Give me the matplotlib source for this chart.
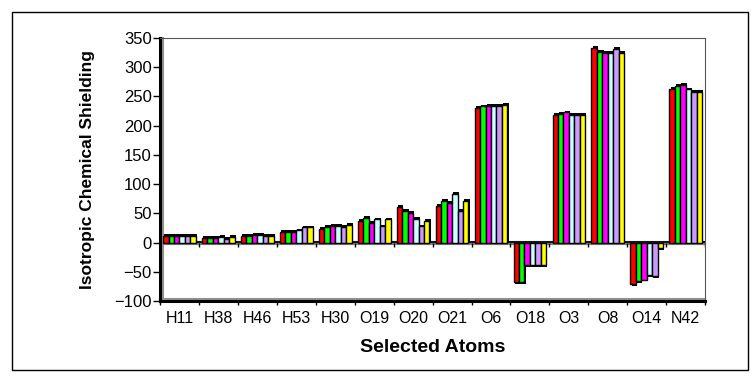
import numpy as np
import matplotlib.pyplot as plt
from matplotlib.patches import Rectangle

plt.rcParams['font.family'] = ['Liberation Sans', 'DejaVu Sans']

# data
atoms = ['H11', 'H38', 'H46', 'H53', 'H30', 'O19', 'O20', 'O21',
         'O6', 'O18', 'O3', 'O8', 'O14', 'N42']
s_red = [11, 8, 11, 19, 23, 37, 61, 63, 230, -68, 219, 333, -71, 263]
s_green = [11, 8, 12, 19, 27, 42, 54, 72, 233, -68, 220, 326, -66, 268]
s_magenta = [11, 8, 13, 19, 29, 34, 51, 68, 234, -39, 223, 324, -63, 270]
s_cyan = [11, 10, 13, 21, 29, 40, 41, 84, 234, -39, 218, 324, -55, 262]
s_lavender = [11, 7, 11, 26, 27, 28, 28, 55, 234, -39, 218, 332, -57, 258]
s_yellow = [11, 10, 11, 26, 31, 40, 37, 71, 236, -39, 219, 324, -9, 258]

series = [s_red, s_green, s_magenta, s_cyan, s_lavender, s_yellow]
colors = ['#ff0000', '#00ff00', '#ff00ff', '#ccffff', '#cc99ff', '#ffff00']

fig = plt.figure(figsize=(7.51, 3.76), dpi=100)
ax = fig.add_axes([0.213, 0.199, 0.726, 0.700])

x = np.arange(len(atoms))
w = 0.14
for i, (vals, c) in enumerate(zip(series, colors)):
    vals = np.array(vals, dtype=float)
    off = (i - 2.5) * w
    # fake 3d depth: dark block behind each bar
    ax.bar(x + off + 0.03, vals + np.sign(vals) * 3, w, color='black', zorder=2)
    ax.bar(x + off, vals, w, color=c, edgecolor='black', linewidth=1.0, zorder=3)

# zero "floor" line with category ticks
ax.axhline(0, color='#808080', lw=3, zorder=1)
ax.axhline(0.8, color='black', lw=1.2, zorder=1)
ax.vlines(np.arange(len(atoms) + 1) - 0.5, -7, 0, color='black', lw=1, zorder=1)

ax.set_xlim(-0.5, len(atoms) - 0.5)
ax.set_ylim(-100, 350)
ax.set_yticks(np.arange(-100, 351, 50))

ax.set_xticks(np.arange(len(atoms) + 1) - 0.5)
ax.set_xticklabels([])
ax.set_xticks(x, minor=True)
ax.set_xticklabels(atoms, minor=True)
ax.tick_params(axis='x', which='major', length=3, width=1)
ax.tick_params(axis='x', which='minor', length=0, pad=7, labelsize=11.5)
ax.tick_params(axis='y', length=5, width=1, pad=1, labelsize=12)

for side in ['left', 'bottom']:
    ax.spines[side].set_linewidth(2.2)
for side in ['top', 'right']:
    ax.spines[side].set_linewidth(0.8)
    ax.spines[side].set_color('#555555')
ax.plot([0.006, 0.006], [0, 1], transform=ax.transAxes, color='#909090', lw=1.5, clip_on=False)
ax.plot([0, 1], [0.008, 0.008], transform=ax.transAxes, color='#909090', lw=1.5, clip_on=False)

ax.set_ylabel('Isotropic Chemical Shielding', fontsize=12.5, fontweight='bold')
ax.yaxis.set_label_coords(-0.119, 0.5)
ax.set_xlabel('Selected Atoms', fontsize=14, fontweight='bold')
ax.xaxis.set_label_coords(0.5, -0.145)

# outer frame
fig.patches.append(Rectangle((0.016, 0.016), 0.98, 0.952, transform=fig.transFigure,
                             fill=False, edgecolor='black', lw=1))

fig.savefig('out.png', dpi=100)
